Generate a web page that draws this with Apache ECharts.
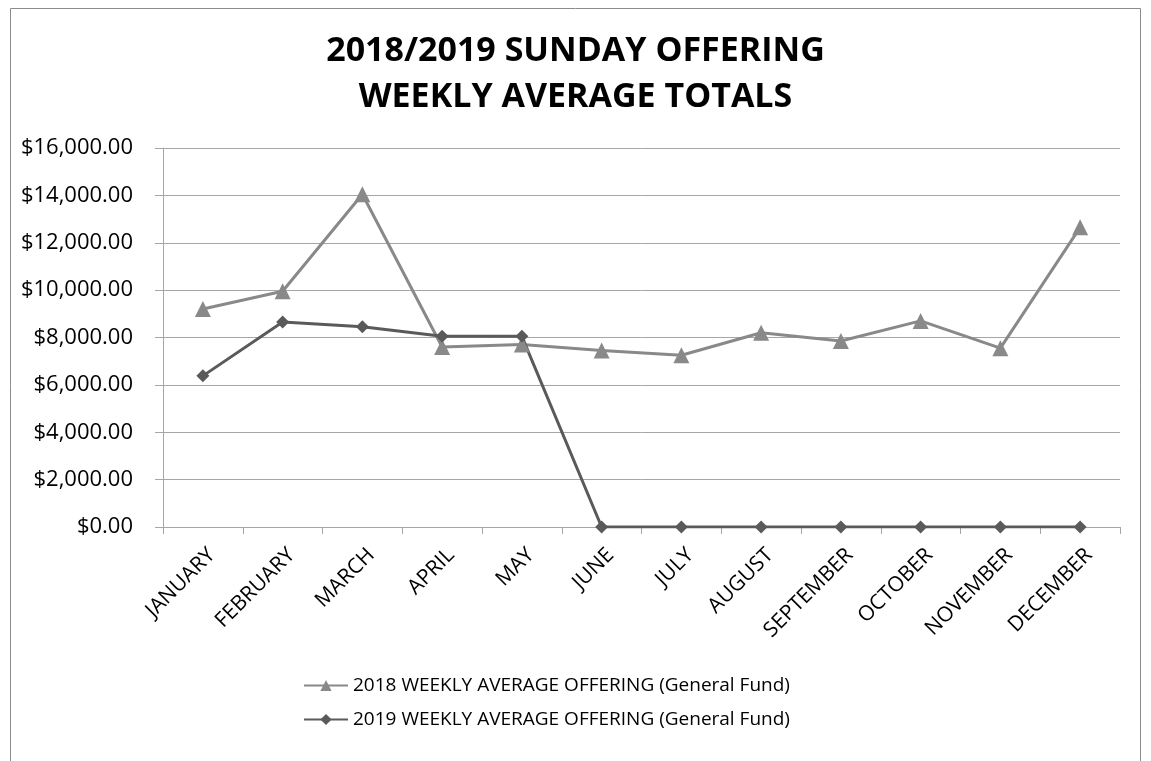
<!DOCTYPE html>
<html>
<head>
<meta charset="utf-8">
<script src="https://cdn.jsdelivr.net/npm/echarts@6/dist/echarts.min.js"></script>
<style>
  html, body { margin: 0; padding: 0; background: #fff; }
  #chart { width: 1151px; height: 761px; }
</style>
</head>
<body>
<div id="chart"></div>
<script>
// months on the x axis
const months = ["JANUARY", "FEBRUARY", "MARCH", "APRIL", "MAY", "JUNE",
  "JULY", "AUGUST", "SEPTEMBER", "OCTOBER", "NOVEMBER", "DECEMBER"];
// weekly average offering
const offering2018 = [9200, 9950, 14050, 7600, 7700, 7450, 7250, 8200, 7850, 8700, 7550, 12650];
const offering2019 = [6380, 8650, 8450, 8050, 8050, 0, 0, 0, 0, 0, 0, 0];
const seriesNames = [
  "2018 WEEKLY AVERAGE OFFERING (General Fund)",
  "2019 WEEKLY AVERAGE OFFERING (General Fund)"
];

const labelFont = "'Open Sans', sans-serif";

// $16,000.00 style labels
function money(v) {
  let s = Math.round(v).toString().replace(/\B(?=(\d{3})+(?!\d))/g, ",");
  return "$" + s + ".00";
}

let chart = echarts.init(document.getElementById("chart"));
chart.setOption({
  animation: false,
  backgroundColor: "#fff",
  graphic: [{
    type: "rect",
    shape: { x: 10.5, y: 8.5, width: 1130, height: 800 },
    style: { fill: "none", stroke: "#8c8c8c", lineWidth: 1 }
  }],
  title: {
    text: "2018/2019 SUNDAY OFFERING\nWEEKLY AVERAGE TOTALS",
    left: "center",
    top: 23,
    textStyle: {
      fontFamily: labelFont,
      fontWeight: "bold",
      fontSize: 34,
      lineHeight: 46,
      color: "#000"
    }
  },
  legend: {
    orient: "vertical",
    left: 298,
    top: 671,
    itemWidth: 44,
    itemHeight: 14,
    itemGap: 15,
    data: seriesNames,
    textStyle: { fontFamily: labelFont, fontSize: 19, color: "#000" }
  },
  grid: { left: 163, right: 31, top: 148, bottom: 234 },
  xAxis: {
    type: "category",
    data: months,
    boundaryGap: true,
    axisLine: { lineStyle: { color: "#a6a6a6", width: 1 } },
    axisTick: { show: true, length: 7, lineStyle: { color: "#a6a6a6" } },
    axisLabel: {
      rotate: 45,
      margin: 16,
      interval: 0,
      verticalAlign: "top",
      lineHeight: 25,
      fontFamily: labelFont,
      fontSize: 21,
      color: "#000"
    }
  },
  yAxis: {
    type: "value",
    min: 0,
    max: 16000,
    interval: 2000,
    axisLine: { show: true, lineStyle: { color: "#a6a6a6", width: 1 } },
    axisTick: { show: true, length: 8, lineStyle: { color: "#a6a6a6" } },
    splitLine: { lineStyle: { color: "#a6a6a6", width: 1 } },
    axisLabel: {
      margin: 30,
      formatter: money,
      fontFamily: labelFont,
      fontSize: 22,
      color: "#000"
    }
  },
  series: [
    {
      name: seriesNames[0],
      type: "line",
      data: offering2018,
      symbol: "triangle",
      symbolSize: 16,
      color: "#898989",
      lineStyle: { width: 3, color: "#898989" },
      itemStyle: { color: "#898989" }
    },
    {
      name: seriesNames[1],
      type: "line",
      data: offering2019,
      symbol: "diamond",
      symbolSize: 13,
      color: "#5a5a5a",
      lineStyle: { width: 3, color: "#5a5a5a" },
      itemStyle: { color: "#5a5a5a" }
    }
  ]
});
</script>
</body>
</html>
